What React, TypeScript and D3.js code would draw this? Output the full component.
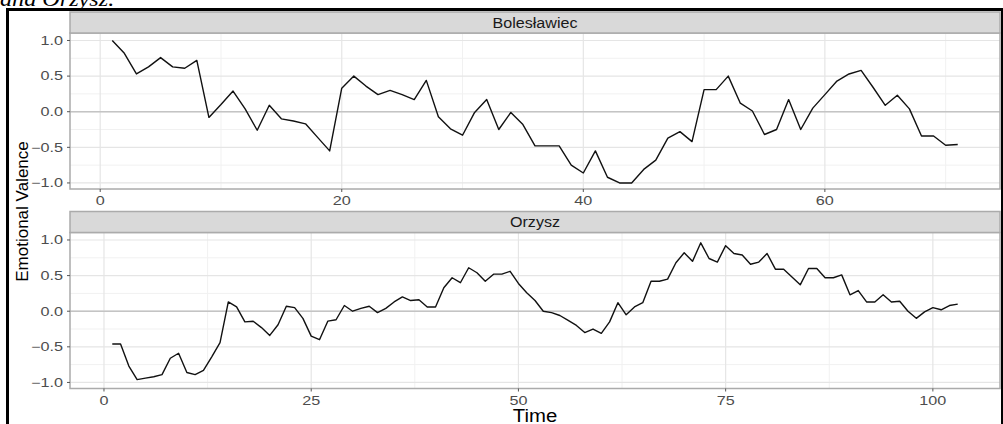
import React, { useRef, useEffect } from 'react';
import * as d3 from 'd3';

// Emotional valence per time step
const bolValence = [
  1.0, 0.82, 0.53, 0.63, 0.76, 0.63, 0.61, 0.72, -0.08, 0.1,
  0.29, 0.04, -0.26, 0.09, -0.1, -0.13, -0.17, -0.36, -0.55, 0.33,
  0.5, 0.36, 0.24, 0.3, 0.24, 0.17, 0.44, -0.07, -0.24, -0.33,
  -0.01, 0.17, -0.25, -0.01, -0.18, -0.48, -0.48, -0.48, -0.75, -0.86,
  -0.55, -0.92, -1.0, -1.0, -0.81, -0.68, -0.37, -0.28, -0.42, 0.31,
  0.31, 0.5, 0.12, 0.01, -0.32, -0.25, 0.17, -0.25, 0.05, 0.24,
  0.43, 0.53, 0.58, 0.34, 0.09, 0.23, 0.04, -0.34, -0.34, -0.47,
  -0.46,
];

const orzValence = [
  -0.46, -0.46, -0.77, -0.96, -0.94, -0.92, -0.89, -0.66, -0.59, -0.86,
  -0.89, -0.83, -0.64, -0.44, 0.13, 0.06, -0.15, -0.14, -0.23, -0.34,
  -0.19, 0.07, 0.05, -0.1, -0.35, -0.4, -0.14, -0.12, 0.08, 0.0,
  0.04, 0.07, -0.02, 0.04, 0.13, 0.2, 0.15, 0.16, 0.06, 0.06,
  0.33, 0.47, 0.4, 0.61, 0.54, 0.42, 0.52, 0.52, 0.56, 0.39,
  0.26, 0.15, 0.0, -0.02, -0.06, -0.13, -0.2, -0.3, -0.25, -0.31,
  -0.15, 0.12, -0.05, 0.06, 0.12, 0.42, 0.42, 0.45, 0.68, 0.82,
  0.7, 0.96, 0.74, 0.69, 0.92, 0.81, 0.79, 0.66, 0.69, 0.81,
  0.59, 0.59, 0.48, 0.37, 0.6, 0.6, 0.47, 0.47, 0.51, 0.23,
  0.29, 0.13, 0.13, 0.23, 0.13, 0.14, 0.0, -0.1, -0.01, 0.05,
  0.02, 0.08, 0.1,
];

const yTicks = [-1.0, -0.5, 0.0, 0.5, 1.0];
const yMinor = [-0.75, -0.25, 0.25, 0.75];
const bolXTicks = [0, 20, 40, 60];
const bolXMinor = [10, 30, 50, 70];
const orzXTicks = [0, 25, 50, 75, 100];
const orzXMinor = [12.5, 37.5, 62.5, 87.5];

const panels = [
  { name: 'Bolesławiec', values: bolValence, xDomain: [-2.5, 74.5], xTicks: bolXTicks, xMinor: bolXMinor, stripTop: 12, top: 33, bottom: 189 },
  { name: 'Orzysz', values: orzValence, xDomain: [-4.1, 108.1], xTicks: orzXTicks, xMinor: orzXMinor, stripTop: 211.5, top: 232.5, bottom: 388.5 },
];

const W = 1003;
const H = 424;
const left = 70;
const right = 1000;
const FONT = '"Liberation Sans", Arial, sans-serif';

const App: React.FC = () => {
  const svgRef = useRef<SVGSVGElement | null>(null);

  useEffect(() => {
    if (!svgRef.current) return;
    const svg = d3.select(svgRef.current);
    svg.selectAll('*').remove();

    // caption fragment cut off at the top of the screenshot
    svg.append('text')
      .attr('transform', 'translate(0,6) scale(1.1,1)')
      .attr('font-family', '"Liberation Serif", "Times New Roman", serif')
      .attr('font-style', 'italic')
      .attr('font-size', 22)
      .attr('fill', '#000')
      .text('and Orzysz.');

    panels.forEach(p => {
      const x = d3.scaleLinear().domain(p.xDomain).range([left, right]);
      const y = d3.scaleLinear().domain([-1.085, 1.105]).range([p.bottom, p.top]);
      const g = svg.append('g');

      g.append('rect')
        .attr('x', left).attr('y', p.top)
        .attr('width', right - left).attr('height', p.bottom - p.top)
        .attr('fill', '#fff');

      // minor grid
      g.selectAll('.ymin').data(yMinor).enter().append('line')
        .attr('x1', left).attr('x2', right)
        .attr('y1', d => y(d)).attr('y2', d => y(d))
        .attr('stroke', '#f1f1f1').attr('stroke-width', 1);
      g.selectAll('.xmin').data(p.xMinor).enter().append('line')
        .attr('x1', d => x(d)).attr('x2', d => x(d))
        .attr('y1', p.top).attr('y2', p.bottom)
        .attr('stroke', '#f1f1f1').attr('stroke-width', 1);

      // major grid
      g.selectAll('.ymaj').data(yTicks).enter().append('line')
        .attr('x1', left).attr('x2', right)
        .attr('y1', d => y(d)).attr('y2', d => y(d))
        .attr('stroke', '#e5e5e5').attr('stroke-width', 1.2);
      g.selectAll('.xmaj').data(p.xTicks).enter().append('line')
        .attr('x1', d => x(d)).attr('x2', d => x(d))
        .attr('y1', p.top).attr('y2', p.bottom)
        .attr('stroke', '#e5e5e5').attr('stroke-width', 1.2);

      // reference line at zero
      g.append('line')
        .attr('x1', left).attr('x2', right)
        .attr('y1', y(0)).attr('y2', y(0))
        .attr('stroke', '#c4c4c4').attr('stroke-width', 1.6);

      const line = d3.line<number>()
        .x((_, i) => x(i + 1))
        .y(d => y(d));
      g.append('path')
        .datum(p.values)
        .attr('d', line)
        .attr('fill', 'none')
        .attr('stroke', '#111')
        .attr('stroke-width', 1.4)
        .attr('stroke-linejoin', 'round');

      // panel border
      g.append('rect')
        .attr('x', left).attr('y', p.top)
        .attr('width', right - left).attr('height', p.bottom - p.top)
        .attr('fill', 'none')
        .attr('stroke', '#ababab').attr('stroke-width', 1.5);

      // strip
      g.append('rect')
        .attr('x', left).attr('y', p.stripTop)
        .attr('width', right - left).attr('height', p.top - p.stripTop)
        .attr('fill', '#d9d9d9')
        .attr('stroke', '#ababab').attr('stroke-width', 1.5);
      g.append('text')
        .attr('transform', `translate(${(left + right) / 2},${(p.stripTop + p.top) / 2}) scale(1.12,1)`)
        .attr('text-anchor', 'middle')
        .attr('dy', '0.36em')
        .attr('font-family', FONT)
        .attr('font-size', 14.4)
        .attr('fill', '#1a1a1a')
        .text(p.name);

      // y axis
      g.selectAll('.ytick').data(yTicks).enter().append('line')
        .attr('x1', left - 3).attr('x2', left)
        .attr('y1', d => y(d)).attr('y2', d => y(d))
        .attr('stroke', '#555').attr('stroke-width', 1);
      g.selectAll('.ylab').data(yTicks).enter().append('text')
        .attr('transform', d => `translate(63,${y(d)}) scale(1.35,1)`)
        .attr('text-anchor', 'end')
        .attr('dy', '0.36em')
        .attr('font-family', FONT)
        .attr('font-size', 12)
        .attr('fill', '#4d4d4d')
        .text(d => d3.format('.1f')(d));

      // x axis
      g.selectAll('.xtick').data(p.xTicks).enter().append('line')
        .attr('x1', d => x(d)).attr('x2', d => x(d))
        .attr('y1', p.bottom).attr('y2', p.bottom + 3)
        .attr('stroke', '#555').attr('stroke-width', 1);
      g.selectAll('.xlab').data(p.xTicks).enter().append('text')
        .attr('transform', d => `translate(${x(d)},${p.bottom + 16}) scale(1.35,1)`)
        .attr('text-anchor', 'middle')
        .attr('font-family', FONT)
        .attr('font-size', 12)
        .attr('fill', '#4d4d4d')
        .text(d => String(d));
    });

    // axis titles
    svg.append('text')
      .attr('transform', 'translate(28,211.5) rotate(-90)')
      .attr('text-anchor', 'middle')
      .attr('font-family', FONT)
      .attr('font-size', 17)
      .attr('fill', '#000')
      .text('Emotional Valence');
    svg.append('text')
      .attr('transform', `translate(${(left + right) / 2},421.5) scale(1.1,1)`)
      .attr('text-anchor', 'middle')
      .attr('font-family', FONT)
      .attr('font-size', 18.5)
      .attr('fill', '#000')
      .text('Time');

    // black frame of the screenshot
    svg.append('line')
      .attr('x1', 7.5).attr('x2', 7.5).attr('y1', 8).attr('y2', H)
      .attr('stroke', '#000').attr('stroke-width', 3);
    svg.append('line')
      .attr('x1', 6).attr('x2', W).attr('y1', 9.5).attr('y2', 9.5)
      .attr('stroke', '#000').attr('stroke-width', 3);
    svg.append('line')
      .attr('x1', 1002).attr('x2', 1002).attr('y1', 8).attr('y2', H)
      .attr('stroke', '#000').attr('stroke-width', 2);
  }, []);

  return (
    <svg
      ref={svgRef}
      width={W}
      height={H}
      style={{ position: 'absolute', left: 0, top: 0, background: '#fff' }}
    ></svg>
  );
};

export default App;
